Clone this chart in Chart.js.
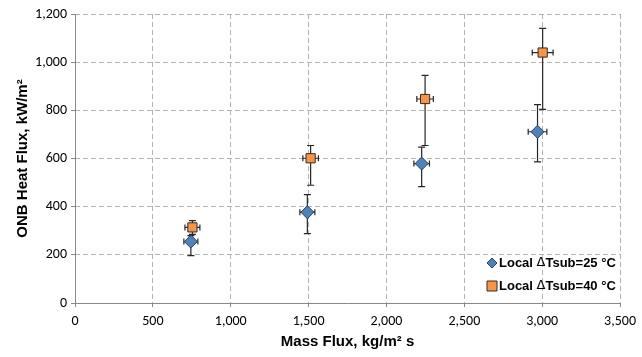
<!DOCTYPE html>
<html>
<head>
<meta charset="utf-8">
<script src="https://cdn.jsdelivr.net/npm/chart.js@4.4.1/dist/chart.umd.min.js"></script>
<style>
  html, body { margin: 0; padding: 0; background: #fff; }
  canvas { display: block; }
</style>
</head>
<body>
<canvas id="chart" width="642" height="357"></canvas>
<script>
// data
const labels25 = 'Local \u0394Tsub=25 \u00b0C';
const labels40 = 'Local \u0394Tsub=40 \u00b0C';

const massFlux25 = [744, 1492, 2226, 2970];
const heatFlux25 = [255, 377, 579, 711];
const xErr25 = [45, 48, 50, 60];
const yLow25 = [197, 288, 483, 586];
const yHigh25 = [280, 450, 647, 824];

const massFlux40 = [754, 1513, 2248, 3003];
const heatFlux40 = [314, 601, 847, 1040];
const xErr40 = [48, 50, 53, 67];
const yLow40 = [285, 489, 654, 804];
const yHigh40 = [342, 654, 945, 1140];

const xTicks = [0, 500, 1000, 1500, 2000, 2500, 3000, 3500];
const yTicks = [0, 200, 400, 600, 800, 1000, 1200];

const toPoints = (xs, ys) => xs.map((x, i) => ({ x: x, y: ys[i] }));

const errors = [
  { xs: massFlux25, ys: heatFlux25, xe: xErr25, lo: yLow25, hi: yHigh25 },
  { xs: massFlux40, ys: heatFlux40, xe: xErr40, lo: yLow40, hi: yHigh40 }
];

// solid axis lines on the left and bottom (grid itself is dashed)
const axisLines = {
  id: 'axisLines',
  beforeDatasetsDraw(chart) {
    const c = chart.ctx, a = chart.chartArea;
    c.save();
    c.strokeStyle = '#888';
    c.lineWidth = 1;
    c.setLineDash([]);
    c.beginPath();
    c.moveTo(a.left + 0.5, a.top);
    c.lineTo(a.left + 0.5, a.bottom + 0.5);
    c.lineTo(a.right, a.bottom + 0.5);
    c.stroke();
    c.restore();
  }
};

// error bars, drawn under the markers
const errorBars = {
  id: 'errorBars',
  beforeDatasetsDraw(chart) {
    const c = chart.ctx;
    const xs = chart.scales.x, ys = chart.scales.y;
    c.save();
    c.strokeStyle = '#262626';
    c.lineWidth = 1.2;
    errors.forEach(e => {
      e.xs.forEach((xv, i) => {
        const px = xs.getPixelForValue(xv);
        const py = ys.getPixelForValue(e.ys[i]);
        const pl = xs.getPixelForValue(xv - e.xe[i]);
        const pr = xs.getPixelForValue(xv + e.xe[i]);
        const pt = ys.getPixelForValue(e.hi[i]);
        const pb = ys.getPixelForValue(e.lo[i]);
        c.beginPath();
        c.moveTo(px, pt); c.lineTo(px, pb);
        c.moveTo(px - 3.5, pt); c.lineTo(px + 3.5, pt);
        c.moveTo(px - 3.5, pb); c.lineTo(px + 3.5, pb);
        c.moveTo(pl, py); c.lineTo(pr, py);
        c.moveTo(pl, py - 3); c.lineTo(pl, py + 3);
        c.moveTo(pr, py - 3); c.lineTo(pr, py + 3);
        c.stroke();
      });
    });
    c.restore();
  }
};

// legend inside the plot, bottom right
const insideLegend = {
  id: 'insideLegend',
  afterDraw(chart) {
    const c = chart.ctx;
    const x0 = 492;
    const rows = [263, 286];
    c.save();
    c.textBaseline = 'middle';
    chart.data.datasets.forEach((ds, i) => {
      const y = rows[i];
      c.fillStyle = ds.backgroundColor;
      c.strokeStyle = ds.borderColor;
      c.lineWidth = 1;
      c.beginPath();
      if (ds.pointStyle === 'rectRot') {
        c.moveTo(x0, y - 5); c.lineTo(x0 + 5, y); c.lineTo(x0, y + 5); c.lineTo(x0 - 5, y); c.closePath();
      } else {
        c.rect(x0 - 5, y - 5, 10, 10);
      }
      c.fill(); c.stroke();
      const parts = ds.label.split('\u0394');
      let tx = x0 + 7;
      c.fillStyle = '#000';
      c.font = 'bold 13px "Liberation Sans", Arial, sans-serif';
      c.fillText(parts[0], tx, y);
      tx += c.measureText(parts[0]).width;
      c.font = '13px "DejaVu Sans", sans-serif';
      c.fillText('\u0394', tx, y);
      tx += c.measureText('\u0394').width;
      c.font = 'bold 13px "Liberation Sans", Arial, sans-serif';
      c.fillText(parts[1], tx, y);
    });
    c.restore();
  }
};

const gridColor = ctx => ctx.index === 0 ? 'rgba(0,0,0,0)' : '#b2b2b2';
const tickFont = { family: 'Carlito, Lato, sans-serif', size: 14 };
const titleFont = { family: '"Liberation Sans", Arial, sans-serif', size: 15, weight: 'bold' };

const config = {
  type: 'scatter',
  data: {
    datasets: [{
      label: labels25,
      data: toPoints(massFlux25, heatFlux25),
      pointStyle: 'rectRot',
      pointRadius: 6.5,
      pointHoverRadius: 6.5,
      backgroundColor: '#4F81BD',
      borderColor: '#2a3f5c',
      borderWidth: 1
    }, {
      label: labels40,
      data: toPoints(massFlux40, heatFlux40),
      pointStyle: 'rect',
      pointRadius: 6.5,
      pointHoverRadius: 6.5,
      backgroundColor: '#F79646',
      borderColor: '#3a2a1e',
      borderWidth: 1
    }]
  },
  options: {
    responsive: false,
    animation: false,
    layout: { padding: { top: 14, right: 21, left: 14 } },
    plugins: {
      legend: { display: false },
      tooltip: { enabled: false }
    },
    scales: {
      x: {
        type: 'linear',
        min: 0,
        max: 3500,
        afterBuildTicks: s => { s.ticks = xTicks.map(v => ({ value: v })); },
        afterFit: s => { s.height = 54; },
        ticks: {
          color: '#000',
          font: tickFont,
          padding: 6,
          callback: v => v.toLocaleString('en-US')
        },
        grid: {
          color: gridColor,
          tickLength: 4,
          tickColor: '#888',
          tickBorderDash: []
        },
        border: { display: false, dash: [5, 3] },
        title: {
          display: true,
          text: 'Mass Flux, kg/m\u00b2 s',
          color: '#000',
          font: titleFont,
          padding: { top: 2, bottom: 6 }
        }
      },
      y: {
        type: 'linear',
        min: 0,
        max: 1200,
        afterBuildTicks: s => { s.ticks = yTicks.map(v => ({ value: v })); },
        afterFit: s => { s.width = 61; },
        ticks: {
          color: '#000',
          font: tickFont,
          padding: 4,
          callback: v => v.toLocaleString('en-US')
        },
        grid: {
          color: gridColor,
          tickLength: 4,
          tickColor: '#888',
          tickBorderDash: []
        },
        border: { display: false, dash: [5, 3] },
        title: {
          display: true,
          text: 'ONB Heat Flux, kW/m\u00b2',
          color: '#000',
          font: titleFont,
          padding: { top: 0, bottom: 4 }
        }
      }
    }
  },
  plugins: [axisLines, errorBars, insideLegend]
};

window.onload = () => {
  new Chart(document.getElementById('chart'), config);
};
</script>
</body>
</html>
